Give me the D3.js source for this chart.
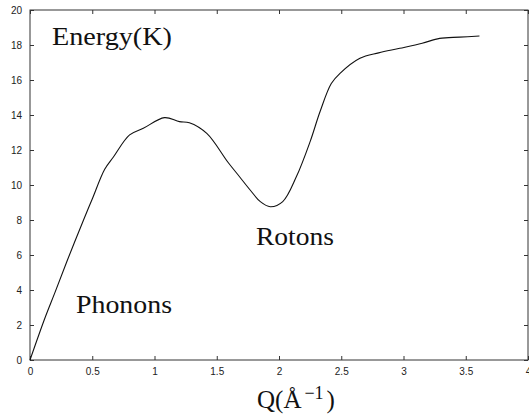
<!DOCTYPE html>
<html><head><meta charset="utf-8">
<script src="https://cdn.jsdelivr.net/npm/d3@7"></script>
<style>
html,body{margin:0;padding:0;background:#fff;}
svg{display:block;}
</style></head>
<body>
<script>
const qValues = [0, 0.12, 0.2, 0.3, 0.43, 0.5, 0.6, 0.67, 0.8, 0.91, 1.08, 1.2, 1.28, 1.42, 1.59, 1.68, 1.77, 1.85, 1.93, 2.03, 2.14, 2.25, 2.33, 2.42, 2.49, 2.65, 2.8, 2.97, 3.15, 3.29, 3.45, 3.61];
const energyValues = [0, 2.4, 3.85, 5.7, 8.0, 9.2, 10.9, 11.6, 12.86, 13.24, 13.85, 13.62, 13.56, 12.95, 11.3, 10.5, 9.7, 9.05, 8.76, 9.05, 10.48, 12.48, 14.2, 15.8, 16.38, 17.24, 17.55, 17.81, 18.1, 18.38, 18.45, 18.51];
const xTicks = [0, 0.5, 1, 1.5, 2, 2.5, 3, 3.5, 4];
const yTicks = [0, 2, 4, 6, 8, 10, 12, 14, 16, 18, 20];

const W = 529, H = 419;
const m = {left: 30, right: 1, top: 10, bottom: 59};
const svg = d3.select("body").append("svg").attr("width", W).attr("height", H);
const x = d3.scaleLinear().domain([0, 4]).range([m.left, W - m.right]);
const y = d3.scaleLinear().domain([0, 20]).range([H - m.bottom, m.top]);

const tickFont = "'Liberation Sans', Arial, sans-serif";
const axisColor = "#333";
const tl = 4;

// frame
svg.append("rect").attr("x", x(0)).attr("y", y(20)).attr("width", x(4) - x(0)).attr("height", y(0) - y(20))
  .attr("fill", "none").attr("stroke", axisColor).attr("stroke-width", 1);

function styleAxis(g){
  g.select(".domain").remove();
  g.selectAll(".tick line").attr("stroke", axisColor);
  g.selectAll(".tick text").attr("font-family", tickFont).attr("font-size", 10).attr("fill", "#222");
}
svg.append("g").attr("transform", `translate(0,${y(0)})`)
  .call(d3.axisBottom(x).tickValues(xTicks).tickSizeInner(-tl).tickSizeOuter(0).tickPadding(8).tickFormat(d3.format("")))
  .call(styleAxis);
svg.append("g").attr("transform", `translate(0,${y(20)})`)
  .call(d3.axisTop(x).tickValues(xTicks).tickSizeInner(-tl).tickSizeOuter(0).tickFormat(""))
  .call(styleAxis);
svg.append("g").attr("transform", `translate(${x(0)},0)`)
  .call(d3.axisLeft(y).tickValues(yTicks).tickSizeInner(-tl).tickSizeOuter(0).tickPadding(8))
  .call(styleAxis);
svg.append("g").attr("transform", `translate(${x(4)},0)`)
  .call(d3.axisRight(y).tickValues(yTicks).tickSizeInner(-tl).tickSizeOuter(0).tickFormat(""))
  .call(styleAxis);

// curve
const data = qValues.map((q, i) => [q, energyValues[i]]);
const line = d3.line().x(d => x(d[0])).y(d => y(d[1])).curve(d3.curveCatmullRom.alpha(0.5));
svg.append("path").datum(data).attr("d", line).attr("fill", "none").attr("stroke", "#111").attr("stroke-width", 1.1);

// labels
const serifFont = "'Liberation Serif', 'Times New Roman', serif";
const lab = (t, xx, yy, len) => svg.append("text").attr("x", xx).attr("y", yy)
  .attr("font-family", serifFont).attr("font-size", 25).attr("fill", "#111")
  .attr("textLength", len).attr("lengthAdjust", "spacingAndGlyphs").text(t);
lab("Energy(K)", 52, 45, 120);
lab("Phonons", 76, 313, 96);
lab("Rotons", 256, 245, 78);

const xl = svg.append("text").attr("x", 257).attr("y", 408)
  .attr("font-family", serifFont).attr("font-size", 25).attr("fill", "#111");
xl.append("tspan").text("Q(Å");
xl.append("tspan").attr("dx", 3).attr("dy", -9).attr("font-size", 18).text("−1");
xl.append("tspan").attr("dx", 3).attr("dy", 9).text(")");
</script>
</body></html>
